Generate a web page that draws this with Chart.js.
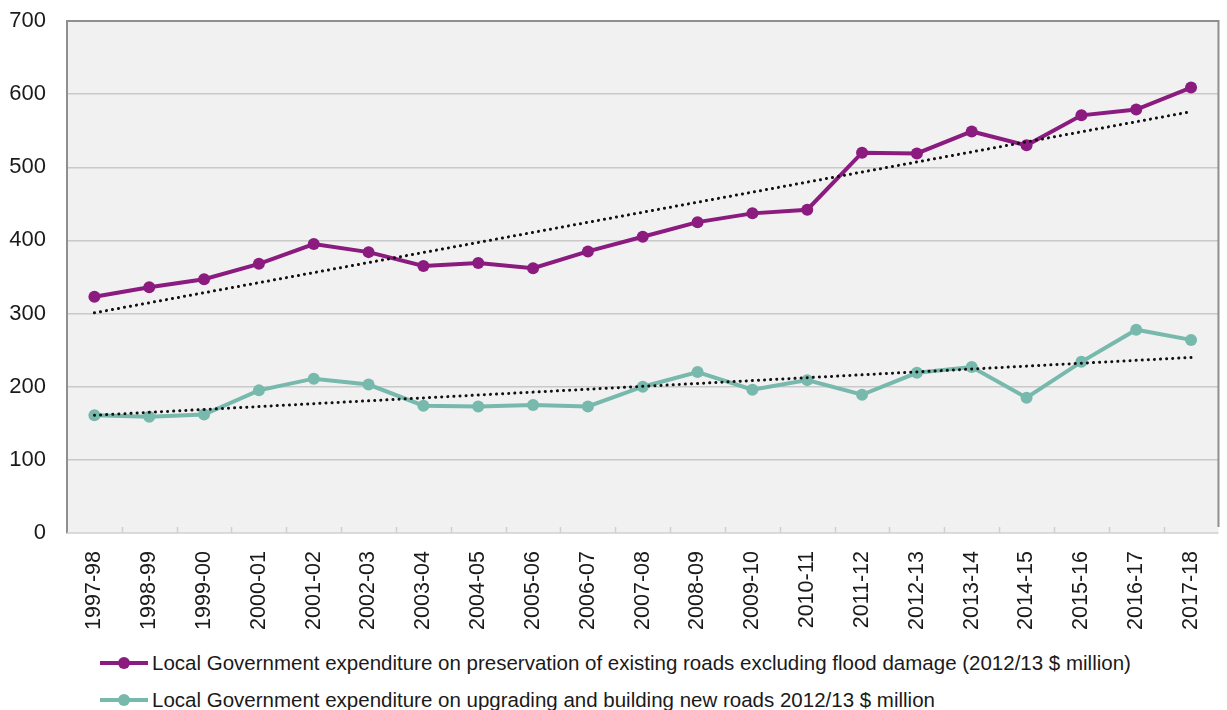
<!DOCTYPE html>
<html>
<head>
<meta charset="utf-8">
<script src="https://cdn.jsdelivr.net/npm/chart.js@4"></script>
<style>
  body { margin: 0; background: #fff; font-family: "Liberation Sans", Arial, sans-serif; }
  #wrap { position: relative; width: 1227px; height: 710px; }
  #grafico { position: absolute; left: 0; top: 0; }
  .legenda { position: absolute; left: 100px; font-size: 20.5px; color: #1a1a1a; display: flex; align-items: center; white-space: nowrap; line-height: 24px; }
  .amostra { position: relative; width: 48px; height: 4px; margin-right: 4px; }
  .amostra i { position: absolute; left: 18px; top: -4px; width: 12px; height: 12px; border-radius: 50%; }
</style>
</head>
<body>
<div id="wrap">
  <canvas id="grafico" width="1227" height="645"></canvas>
  <div class="legenda" style="top:651px"><span class="amostra" style="background:#8b1b7f"><i style="background:#8b1b7f"></i></span>Local Government expenditure on preservation of existing roads excluding flood damage (2012/13 $ million)</div>
  <div class="legenda" style="top:688px"><span class="amostra" style="background:#78b9ad"><i style="background:#78b9ad"></i></span>Local Government expenditure on upgrading and building new roads 2012/13 $ million</div>
</div>
<script>
// categorias (anos financeiros)
const anos = ['1997-98', '1998-99', '1999-00', '2000-01', '2001-02', '2002-03', '2003-04',
  '2004-05', '2005-06', '2006-07', '2007-08', '2008-09', '2009-10', '2010-11', '2011-12',
  '2012-13', '2013-14', '2014-15', '2015-16', '2016-17', '2017-18'];

// preservação de estradas existentes
const preservacao = [323, 336, 347, 368, 395, 384, 365, 369, 362, 385, 405, 425, 437, 442,
  520, 519, 549, 530, 571, 579, 609];

// estradas novas / melhorias
const novasEstradas = [161, 159, 162, 195, 211, 203, 174, 173, 175, 173, 200, 220, 196, 209,
  189, 219, 227, 185, 234, 278, 264];

const tendPreservacao = [301, 576];
const tendNovas = [161, 240];

const yTicks = [0, 100, 200, 300, 400, 500, 600, 700];

function pontasTendencia(pontas) {
  const arr = anos.map(() => null);
  arr[0] = pontas[0];
  arr[anos.length - 1] = pontas[1];
  return arr;
}

const fundoPlot = {
  id: 'fundoPlot',
  beforeDraw(chart) {
    const { ctx, chartArea: a } = chart;
    ctx.save();
    ctx.fillStyle = '#f1f1f1';
    ctx.fillRect(a.left, a.top, a.right - a.left, a.bottom - a.top);
    ctx.restore();
  },
  afterDraw(chart) {
    const { ctx, chartArea: a } = chart;
    ctx.save();
    ctx.strokeStyle = '#8f8f8f';
    ctx.lineWidth = 2;
    ctx.beginPath();
    ctx.moveTo(a.left, a.top);
    ctx.lineTo(a.right, a.top);
    ctx.lineTo(a.right, a.bottom - 6);
    ctx.stroke();
    // marquinhas entre categorias
    ctx.strokeStyle = '#d0d0d0';
    ctx.lineWidth = 1.5;
    const passo = (a.right - a.left) / anos.length;
    ctx.beginPath();
    for (let i = 1; i < anos.length; i++) {
      const x = Math.round(a.left + i * passo) + 0.5;
      ctx.moveTo(x, a.bottom);
      ctx.lineTo(x, a.bottom - 6);
    }
    ctx.moveTo(a.left, a.bottom);
    ctx.lineTo(a.right, a.bottom);
    ctx.stroke();
    ctx.restore();
  }
};

const tendenciaEstilo = {
  borderColor: '#111',
  borderWidth: 3,
  borderDash: [0.1, 6],
  borderCapStyle: 'round',
  pointRadius: 0,
  pointHoverRadius: 0,
  spanGaps: true,
  fill: false
};

new Chart(document.getElementById('grafico').getContext('2d'), {
  type: 'line',
  data: {
    labels: anos,
    datasets: [
      Object.assign({ label: 'tend1', data: pontasTendencia(tendPreservacao), order: 0 }, tendenciaEstilo),
      Object.assign({ label: 'tend2', data: pontasTendencia(tendNovas), order: 0 }, tendenciaEstilo),
      {
        label: 'Preservação',
        data: preservacao,
        borderColor: '#8b1b7f',
        backgroundColor: '#8b1b7f',
        borderWidth: 4,
        pointRadius: 6,
        pointBorderWidth: 0,
        order: 1
      },
      {
        label: 'Novas',
        data: novasEstradas,
        borderColor: '#78b9ad',
        backgroundColor: '#78b9ad',
        borderWidth: 4,
        pointRadius: 6,
        pointBorderWidth: 0,
        order: 1
      }
    ]
  },
  options: {
    responsive: false,
    animation: false,
    layout: { padding: { top: 21, right: 2, left: 0, bottom: 0 } },
    plugins: {
      legend: { display: false },
      tooltip: { enabled: false }
    },
    scales: {
      x: {
        offset: true,
        grid: { display: false },
        border: { display: false },
        ticks: {
          color: '#1a1a1a',
          font: { family: 'Liberation Sans', size: 21.5 },
          maxRotation: 90,
          minRotation: 90,
          padding: 10,
          autoSkip: false
        },
        afterFit(scale) { scale.height = 112; }
      },
      y: {
        min: 0,
        max: 700,
        afterBuildTicks(scale) { scale.ticks = yTicks.map(v => ({ value: v })); },
        grid: {
          color: ctx => (ctx.tick.value === 0 || ctx.tick.value === 700) ? 'rgba(0,0,0,0)' : '#c9c9c9',
          lineWidth: 1.5,
          drawTicks: false
        },
        border: { display: true, color: '#8f8f8f', width: 2 },
        ticks: {
          color: '#1a1a1a',
          font: { family: 'Liberation Sans', size: 22 },
          padding: 21
        },
        afterFit(scale) {
          scale.width = 67;
          scale.paddingTop = 0;
          scale.paddingBottom = 0;
        }
      }
    }
  },
  plugins: [fundoPlot]
});
</script>
</body>
</html>
